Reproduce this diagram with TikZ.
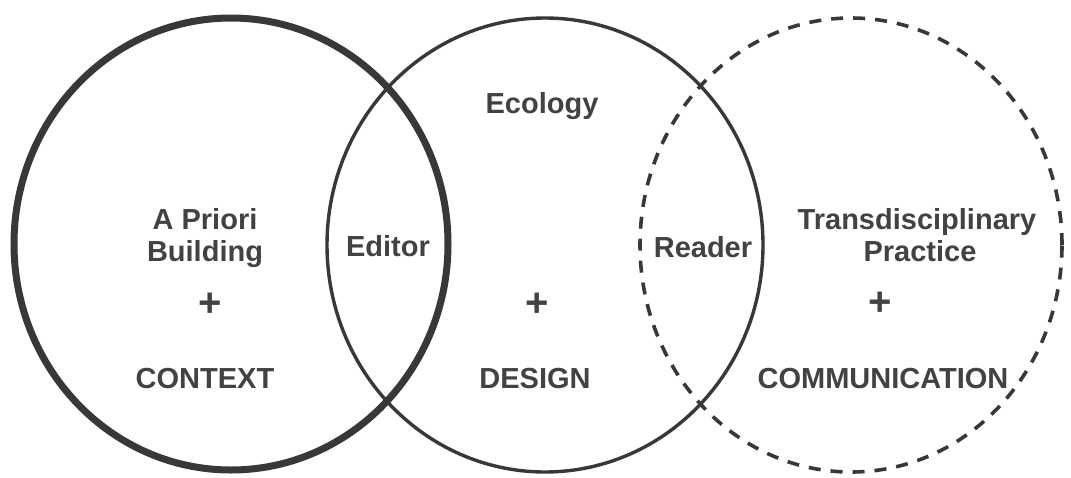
\documentclass[tikz,border=0pt]{standalone}
\usepackage{fontspec}
\setmainfont{Liberation Sans}
\definecolor{ink}{HTML}{383838}
\definecolor{txt}{HTML}{424242}
\tikzset{
  ring/.style={draw=ink},
  thickring/.style={ring, line width=7pt},
  thinring/.style={ring, line width=3.4pt},
  dashring/.style={ring, line width=3.6pt, dash pattern=on 12pt off 10pt},
  lbl/.style={text=txt, font=\fontsize{29}{33}\selectfont\bfseries, inner sep=0pt, anchor=base},
  plus/.style={lbl, font=\fontsize{40}{40}\selectfont\bfseries}
}
\begin{document}
\begin{tikzpicture}[x=1pt,y=-1pt]
\useasboundingbox[fill=white] (0,0) rectangle (1071,477);
% circles
\draw[thickring] (231,244) ellipse [x radius=217pt, y radius=226pt];
\draw[thinring] (545,245) ellipse [x radius=218pt, y radius=227pt];
\draw[dashring] (851,245) ellipse [x radius=211pt, y radius=227pt];
% left
\node[lbl] (apriori) at (205,229) {A Priori};
\node[lbl] (building) at (205,261) {Building};
\node[plus] (plusL) at (210,316) {+};
\node[lbl] (context) at (205,388) {CONTEXT};
% overlaps
\node[lbl] (editor) at (388,256) {Editor};
\node[lbl] (reader) at (703,257) {Reader};
% center
\node[lbl] (ecology) at (542,113) {Ecology};
\node[plus] (plusC) at (537,316) {+};
\node[lbl] (design) at (535,388) {DESIGN};
% right
\node[lbl] (trans) at (917,229) {Transdisciplinary};
\node[lbl] (practice) at (920,261) {Practice};
\node[plus] (plusR) at (880,315) {+};
\node[lbl] (comm) at (883,388) {COMMUNICATION};
\end{tikzpicture}
\end{document}
